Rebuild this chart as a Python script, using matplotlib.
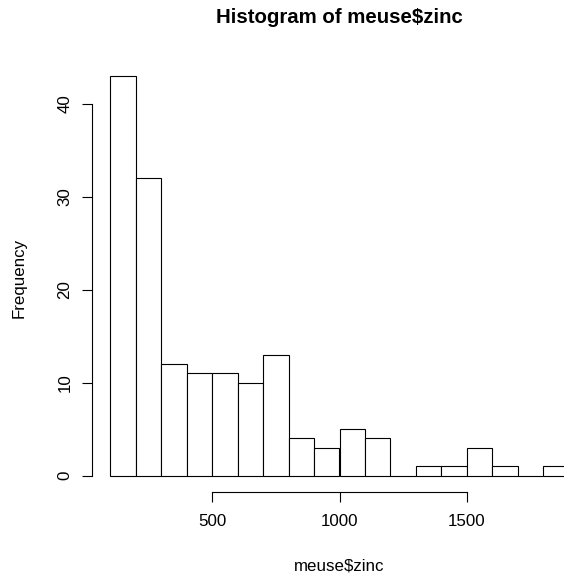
import numpy as np
import matplotlib
matplotlib.use('Agg')
import matplotlib.pyplot as plt

# histogram of meuse$zinc, bins of width 100
breaks = [100, 200, 300, 400, 500, 600, 700, 800, 900, 1000,
          1100, 1200, 1300, 1400, 1500, 1600, 1700, 1800, 1900]
counts = [43, 32, 12, 11, 11, 10, 13, 4, 3, 5, 4, 0, 1, 1, 3, 1, 0, 1]
xticks = [500, 1000, 1500]
yticks = [0, 10, 20, 30, 40]

plt.rcParams['font.family'] = ['Liberation Sans', 'DejaVu Sans']
FS = 12.2

W, H = 564, 576
fig = plt.figure(figsize=(W / 100, H / 100), dpi=100)

# plot region in pixels (left, right, top, bottom)
L, R, T, B = 92, 587, 59.6, 491.7
ax = fig.add_axes([L / W, 1 - B / H, (R - L) / W, (B - T) / H])
ax.patch.set_visible(False)

left = np.array(breaks[:-1])
width = np.diff(breaks)
ax.bar(left, counts, width=width, align='edge', color='white',
       edgecolor='black', linewidth=0.8)

# R style 4% extension
xr = breaks[-1] - breaks[0]
ax.set_xlim(breaks[0] - 0.04 * xr, breaks[-1] + 0.04 * xr)
ymax = max(counts)
ax.set_ylim(-0.04 * ymax, ymax * 1.04)

for s in ['top', 'right']:
    ax.spines[s].set_visible(False)
ax.spines['bottom'].set_bounds(xticks[0], xticks[-1])
ax.spines['left'].set_bounds(yticks[0], yticks[-1])
for s in ['bottom', 'left']:
    ax.spines[s].set_linewidth(0.8)

ax.set_xticks(xticks)
ax.set_yticks(yticks)
ax.set_xticklabels([str(v) for v in xticks], fontsize=FS)
ax.set_yticklabels([str(v) for v in yticks], fontsize=FS, rotation=90,
                   va='center')
ax.tick_params(length=7.2, width=0.8)
ax.tick_params(axis='x', pad=9)
ax.tick_params(axis='y', pad=7)

cx = (L + R) / 2
fig.text(cx / W, 1 - 17.5 / H, 'Histogram of meuse$zinc', ha='center',
         va='center', fontsize=FS * 1.2, fontweight='bold')
fig.text(cx / W, 1 - 566 / H, 'meuse$zinc', ha='center', va='center',
         fontsize=FS)
fig.text(19 / W, 1 - 278 / H, 'Frequency', ha='center',
         va='center', rotation=90, fontsize=FS)

fig.savefig('out.png', dpi=100)
